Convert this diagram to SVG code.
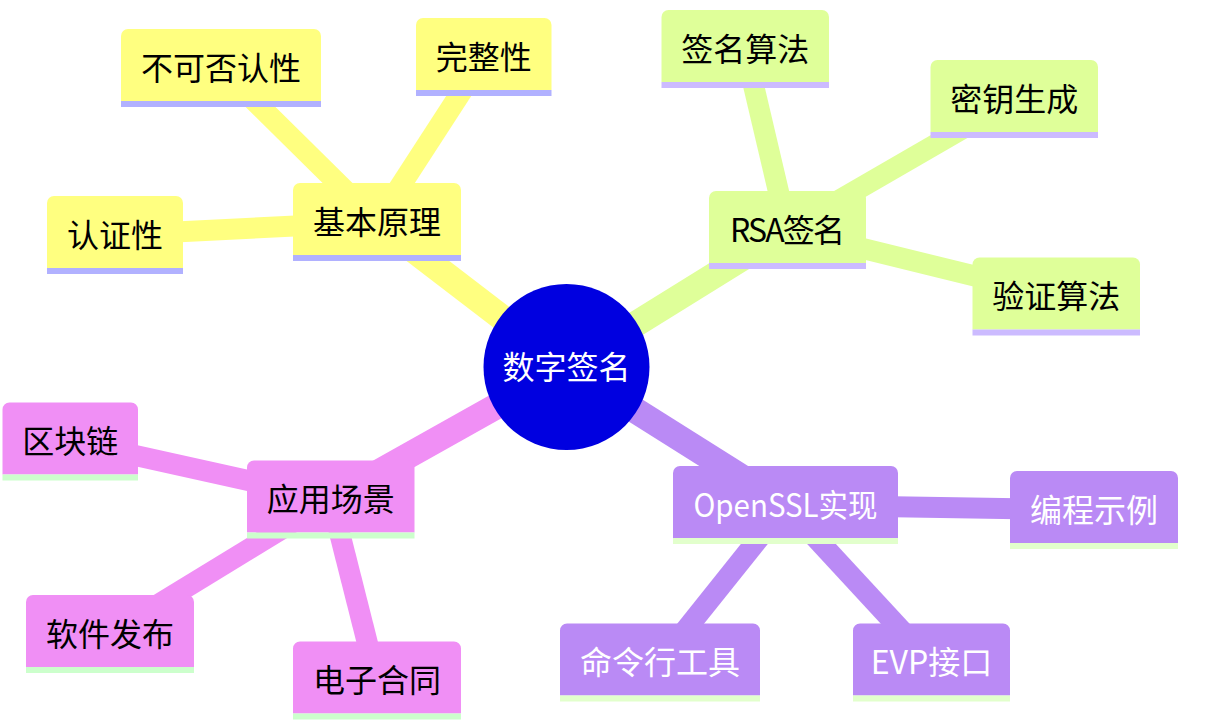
<svg xmlns="http://www.w3.org/2000/svg" width="1214" height="724" viewBox="0 0 1214 724">
<style>
text{font-family:"Noto Sans CJK SC","Noto Sans",sans-serif;font-size:32px;text-anchor:middle}
.e0{stroke-linecap:butt;fill:none;stroke-width:26}
.e1{stroke-linecap:butt;fill:none;stroke-width:21}
.s0{fill:#ffff80;stroke:#ffff80}
.s1{fill:#dfff99;stroke:#dfff99}
.s2{fill:#f08ff5;stroke:#f08ff5}
.s3{fill:#ba8af5;stroke:#ba8af5}
.l0{fill:#b1b1ff}
.l1{fill:#ccbbff}
.l2{fill:#ccffcc}
.l3{fill:#e2ffcc}
.tb{fill:#000}
.tw{fill:#fff}
line.s0,line.s1,line.s2,line.s3{fill:none}
path.s0,path.s1,path.s2,path.s3{stroke:none}
</style>
<rect width="1214" height="724" fill="#fff"/>
<g id="connectors">
<line class="e0 s0" x1="566.5" y1="367" x2="377" y2="222"/>
<line class="e0 s1" x1="566.5" y1="367" x2="787.5" y2="230"/>
<line class="e0 s2" x1="566.5" y1="367" x2="331" y2="499"/>
<line class="e0 s3" x1="566.5" y1="367" x2="785.5" y2="505"/>
<line class="e1 s0" x1="377" y1="222" x2="221" y2="68"/>
<line class="e1 s0" x1="377" y1="222" x2="484" y2="57"/>
<line class="e1 s0" x1="377" y1="222" x2="115" y2="235"/>
<line class="e1 s1" x1="787.5" y1="230" x2="745" y2="49"/>
<line class="e1 s1" x1="787.5" y1="230" x2="1014" y2="99"/>
<line class="e1 s1" x1="787.5" y1="230" x2="1056" y2="296"/>
<line class="e1 s2" x1="331" y1="499" x2="70" y2="441"/>
<line class="e1 s2" x1="331" y1="499" x2="110" y2="634"/>
<line class="e1 s2" x1="331" y1="499" x2="377" y2="681"/>
<line class="e1 s3" x1="785.5" y1="505" x2="1094" y2="510"/>
<line class="e1 s3" x1="785.5" y1="505" x2="660" y2="662"/>
<line class="e1 s3" x1="785.5" y1="505" x2="931.5" y2="663"/>
</g>
<g id="root">
<circle cx="566.5" cy="367" r="83" fill="#0000e0"/>
<text class="tw" x="566.5" y="379">数字签名</text>
</g>
<g id="n-jbyl">
<path class="s0" d="M293 255V190A7 7 0 0 1 300 183H454A7 7 0 0 1 461 190V255Z"/>
<rect class="l0" x="293" y="255" width="168" height="6"/>
<text class="tb" x="377" y="233.5">基本原理</text>
</g>
<g id="n-bkfrx">
<path class="s0" d="M121 101V36A7 7 0 0 1 128 29H314A7 7 0 0 1 321 36V101Z"/>
<rect class="l0" x="121" y="101" width="200" height="6"/>
<text class="tb" x="221" y="79.5">不可否认性</text>
</g>
<g id="n-wzx">
<path class="s0" d="M416 90V25A7 7 0 0 1 423 18H544.5A7 7 0 0 1 551.5 25V90Z"/>
<rect class="l0" x="416" y="90" width="135.5" height="6"/>
<text class="tb" x="483.75" y="68.5">完整性</text>
</g>
<g id="n-rzx">
<path class="s0" d="M47 268V203A7 7 0 0 1 54 196H176A7 7 0 0 1 183 203V268Z"/>
<rect class="l0" x="47" y="268" width="136" height="6"/>
<text class="tb" x="115" y="246.5">认证性</text>
</g>
<g id="n-rsa">
<path class="s1" d="M709 263V198A7 7 0 0 1 716 191H859A7 7 0 0 1 866 198V263Z"/>
<rect class="l1" x="709" y="263" width="157" height="6"/>
<text class="tb" x="787.5" y="241.5" textLength="115">RSA签名</text>
</g>
<g id="n-qmsf">
<path class="s1" d="M661.5 82V17A7 7 0 0 1 668.5 10H822A7 7 0 0 1 829 17V82Z"/>
<rect class="l1" x="661.5" y="82" width="167.5" height="6"/>
<text class="tb" x="745.25" y="60.5">签名算法</text>
</g>
<g id="n-mysc">
<path class="s1" d="M930.5 132V67A7 7 0 0 1 937.5 60H1091A7 7 0 0 1 1098 67V132Z"/>
<rect class="l1" x="930.5" y="132" width="167.5" height="6"/>
<text class="tb" x="1014.25" y="110.5">密钥生成</text>
</g>
<g id="n-yzsf">
<path class="s1" d="M972.5 329.5V264.5A7 7 0 0 1 979.5 257.5H1133A7 7 0 0 1 1140 264.5V329.5Z"/>
<rect class="l1" x="972.5" y="329.5" width="167.5" height="6"/>
<text class="tb" x="1056.25" y="308">验证算法</text>
</g>
<g id="n-yycj">
<path class="s2" d="M247 532.5V467.5A7 7 0 0 1 254 460.5H407.5A7 7 0 0 1 414.5 467.5V532.5Z"/>
<rect class="l2" x="247" y="532.5" width="167.5" height="6"/>
<text class="tb" x="330.75" y="511">应用场景</text>
</g>
<g id="n-qkl">
<path class="s2" d="M2.5 474.5V409.5A7 7 0 0 1 9.5 402.5H131A7 7 0 0 1 138 409.5V474.5Z"/>
<rect class="l2" x="2.5" y="474.5" width="135.5" height="6"/>
<text class="tb" x="70.25" y="453">区块链</text>
</g>
<g id="n-rjfb">
<path class="s2" d="M26 667V602A7 7 0 0 1 33 595H187A7 7 0 0 1 194 602V667Z"/>
<rect class="l2" x="26" y="667" width="168" height="6"/>
<text class="tb" x="110" y="645.5">软件发布</text>
</g>
<g id="n-dzht">
<path class="s2" d="M293 713.5V648.5A7 7 0 0 1 300 641.5H454A7 7 0 0 1 461 648.5V713.5Z"/>
<rect class="l2" x="293" y="713.5" width="168" height="6"/>
<text class="tb" x="377" y="692">电子合同</text>
</g>
<g id="n-openssl">
<path class="s3" d="M673 538V473A7 7 0 0 1 680 466H891A7 7 0 0 1 898 473V538Z"/>
<rect class="l3" x="673" y="538" width="225" height="6"/>
<text class="tw" x="785.5" y="516.5" textLength="184" lengthAdjust="spacingAndGlyphs">OpenSSL实现</text>
</g>
<g id="n-bcsl">
<path class="s3" d="M1010 543V478A7 7 0 0 1 1017 471H1171A7 7 0 0 1 1178 478V543Z"/>
<rect class="l3" x="1010" y="543" width="168" height="6"/>
<text class="tw" x="1094" y="521.5">编程示例</text>
</g>
<g id="n-mlhgj">
<path class="s3" d="M560 695.5V630.5A7 7 0 0 1 567 623.5H753A7 7 0 0 1 760 630.5V695.5Z"/>
<rect class="l3" x="560" y="695.5" width="200" height="6"/>
<text class="tw" x="660" y="674">命令行工具</text>
</g>
<g id="n-evp">
<path class="s3" d="M853 695.5V630.5A7 7 0 0 1 860 623.5H1003A7 7 0 0 1 1010 630.5V695.5Z"/>
<rect class="l3" x="853" y="695.5" width="157" height="6"/>
<text class="tw" x="931.5" y="674">EVP接口</text>
</g>
</svg>
